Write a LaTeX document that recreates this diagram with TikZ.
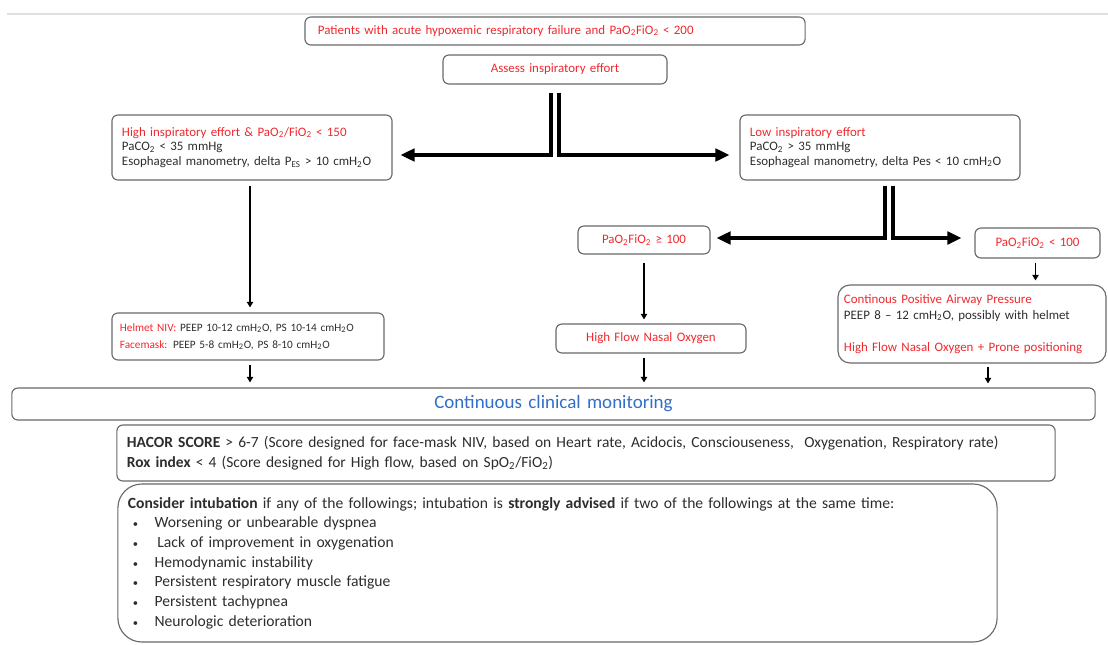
\documentclass[tikz,border=0pt]{standalone}
\usepackage{fontspec}
\setmainfont{Carlito}
\usetikzlibrary{arrows.meta,calc}

\definecolor{alertred}{RGB}{240,40,45}
\definecolor{monblue}{RGB}{50,110,200}
\definecolor{boxgray}{RGB}{105,105,105}
\definecolor{inkgray}{RGB}{45,45,45}

\newcommand{\subtx}[1]{\textsubscript{#1}}
\newcommand{\pf}{PaO\subtx{2}FiO\subtx{2}}
\newcommand{\cmh}{cmH\subtx{2}O}
\newcommand{\bul}{\hspace*{3.5pt}\makebox[15.5pt][l]{\fontsize{7.5}{7.5}\selectfont\textbullet}}

\tikzset{
	box/.style={draw=boxgray, line width=0.8pt, rounded corners=0.15cm, inner sep=0pt,
		text=inkgray, font=\fontsize{9.2}{10.4}\selectfont},
	redbox/.style={box, text=alertred},
	dbl/.style={line width=2.2pt, -{Triangle[length=10pt,width=9pt]}},
	arr/.style={line width=1.1pt, -{Triangle[length=4pt,width=4.5pt]}}
}

\begin{document}
\begin{tikzpicture}[x=0.025cm,y=-0.025cm]
	\useasboundingbox (0,0) rectangle (1108,644);
	\draw[gray!25, line width=1pt] (7,14) -- (1108,14);

	% top boxes
	\node[redbox, minimum width=12.5cm, minimum height=0.7cm, text width=11.85cm, align=left]
		(patients) at (555,31) {Patients with acute hypoxemic respiratory failure and \pf{} < 200};
	\node[redbox, minimum width=5.6cm, minimum height=0.725cm, text width=5.6cm, align=center]
		(assess) at (555,69.5) {Assess inspiratory effort};

	% effort level
	\node[box, minimum width=7cm, minimum height=1.625cm, text width=6.5cm, align=left]
		(high) at (252,147.5) {\textcolor{alertred}{High inspiratory effort \& PaO\subtx{2}/FiO\subtx{2} < 150}\\
		PaCO\subtx{2} < 35 mmHg\\
		Esophageal manometry, delta P\subtx{ES} > 10 \cmh};
	\node[box, minimum width=7cm, minimum height=1.625cm, text width=6.5cm, align=left]
		(low) at (880,147.5) {\textcolor{alertred}{Low inspiratory effort}\\
		PaCO\subtx{2} > 35 mmHg\\
		Esophageal manometry, delta Pes < 10 \cmh};

	% oxygenation level
	\node[redbox, minimum width=3.3cm, minimum height=0.7cm, text width=3.3cm, align=center]
		(ge100) at (644,240) {\pf{} ≥ 100};
	\node[redbox, minimum width=3.125cm, minimum height=0.75cm, text width=3.125cm, align=center]
		(lt100) at (1037.5,243) {\pf{} < 100};

	% treatments
	\node[box, minimum width=6.8cm, minimum height=1.175cm, text width=6.4cm, align=left,
		font=\fontsize{8}{12}\selectfont]
		(helmet) at (248,336.5) {\textcolor{alertred}{Helmet NIV:} PEEP 10-12 \cmh, PS 10-14 \cmh\\
		\textcolor{alertred}{Facemask:} PEEP 5-8 \cmh, PS 8-10 \cmh};
	\node[redbox, minimum width=4.75cm, minimum height=0.725cm, text width=4.75cm, align=center]
		(hfno) at (651,338.5) {High Flow Nasal Oxygen};
	\node[box, minimum width=6.7cm, minimum height=1.95cm, text width=6.4cm, align=left,
		rounded corners=0.3cm, font=\fontsize{9.2}{11.4}\selectfont]
		(cpap) at (972,324) {\textcolor{alertred}{Continous Positive Airway Pressure}\\
		PEEP 8 – 12 \cmh, possibly with helmet\\[11.4pt]
		\textcolor{alertred}{High Flow Nasal Oxygen + Prone positioning}};

	% monitoring
	\node[box, minimum width=27.075cm, minimum height=0.8cm, text width=27.075cm, align=center,
		text=monblue, font=\fontsize{13.5}{15}\selectfont]
		(monitor) at (553.5,404) {Continuous clinical monitoring};
	\node[box, minimum width=23.45cm, minimum height=1.4cm, text width=22.95cm, align=left,
		font=\fontsize{11}{14}\selectfont]
		(hacor) at (586,453) {\textbf{HACOR SCORE} > 6-7 (Score designed for face-mask NIV, based on Heart rate, Acidocis, Consciouseness,\ \ Oxygenation, Respiratory rate)\\
		\textbf{Rox index} < 4 (Score designed for High flow, based on SpO\subtx{2}/FiO\subtx{2})};
	\node[box, minimum width=21.975cm, minimum height=3.95cm, text width=21.475cm, align=left,
		rounded corners=0.6cm, font=\fontsize{11.1}{14}\selectfont]
		(consider) at (557.5,563) {\textbf{Consider intubation} if any of the followings; intubation is \textbf{strongly advised} if two of the followings at the same time:\\
		\bul Worsening or unbearable dyspnea\\
		\bul\hspace{2pt}Lack of improvement in oxygenation\\
		\bul Hemodynamic instability\\
		\bul Persistent respiratory muscle fatigue\\
		\bul Persistent tachypnea\\
		\bul Neurologic deterioration};

	% split connectors
	\draw[dbl] ($(assess.south)+(-4,8)$) |- ($(high.east)+(8,7.5)$);
	\draw[dbl] ($(assess.south)+(4,8)$) |- ($(low.west)+(-10,7.5)$);
	\draw[dbl] ($(low.south)+(5,5)$) |- ($(ge100.east)+(6,-2)$);
	\draw[dbl] ($(low.south)+(13,5)$) |- ($(lt100.west)+(-13,-5)$);

	% straight connectors
	\draw[arr] ($(high.south)+(-2,5)$) -- ($(high.south |- helmet.north)+(-2,-5)$);
	\draw[arr] ($(ge100.south)+(0,8)$) -- ($(ge100.south |- hfno.north)+(0,-4)$);
	\draw[arr] ($(lt100.south)+(-2,4)$) -- ($(lt100.south |- cpap.north)+(-2,-4)$);
	\draw[arr] ($(helmet.south)+(2,4)$) -- ($(helmet.south |- monitor.north)+(2,-5)$);
	\draw[arr] ($(hfno.south)+(-7,4)$) -- ($(hfno.south |- monitor.north)+(-7,-5)$);
	\draw[arr] ($(cpap.south)+(16,3)$) -- ($(cpap.south |- monitor.north)+(16,-4)$);
\end{tikzpicture}
\end{document}
